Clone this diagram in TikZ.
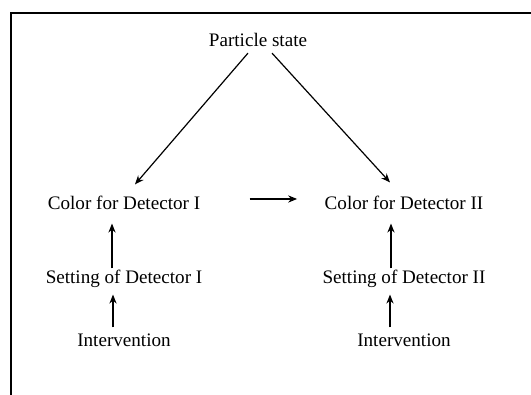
\documentclass[tikz,border=0pt]{standalone}
\usepackage{fontspec}
\setmainfont{Liberation Serif}
\usetikzlibrary{arrows.meta, positioning}

\begin{document}
\begin{tikzpicture}[
        lbl/.style={inner sep=0pt, text height=6.5pt, text depth=2pt, font=\fontsize{9.55pt}{11pt}\selectfont},
        every path/.style={line width=0.6pt},
        >={Stealth[length=4.5pt, width=3.6pt]},
        on grid
    ]
        \useasboundingbox (0,0) rectangle (265.5pt,-197.5pt);
        % Frame
        \draw[line width=0.8pt] (265.5pt,-6.5pt) -- (5.5pt,-6.5pt) -- (5.5pt,-197.5pt);

        % Nodes
        \node[lbl] (state) at (129pt,-21pt) {Particle state};
        \node[lbl, below left=81.5pt and 67pt of state] (colorI) {Color for Detector I};
        \node[lbl, below right=81.5pt and 73pt of state] (colorII) {Color for Detector II};
        \node[lbl, below=37pt of colorI] (settingI) {Setting of Detector I};
        \node[lbl, below=37pt of colorII] (settingII) {Setting of Detector II};
        \node[lbl, below=31.5pt of settingI] (intervI) {Intervention};
        \node[lbl, below=31.5pt of settingII] (intervII) {Intervention};

        % Arrows
        \draw[->] ([xshift=-5pt, yshift=-1pt]state.south) -- ([xshift=5.5pt, yshift=5.75pt]colorI.north);
        \draw[->] ([xshift=7pt, yshift=-1pt]state.south) -- ([xshift=-7pt, yshift=6.75pt]colorII.north);
        \draw[->] ([xshift=24.5pt, yshift=3pt]colorI.east) -- ([xshift=-13.5pt, yshift=3pt]colorII.west);
        \draw[->] ([xshift=-6pt, yshift=0.75pt]settingI.north) -- ([xshift=-6pt, yshift=-4.75pt]colorI.south);
        \draw[->] ([xshift=-6.5pt, yshift=0.75pt]settingII.north) -- ([xshift=-6.5pt, yshift=-4.75pt]colorII.south);
        \draw[->] ([xshift=-5.5pt, yshift=2.75pt]intervI.north) -- ([xshift=-5.5pt, yshift=-3.25pt]settingI.south);
        \draw[->] ([xshift=-7pt, yshift=2.75pt]intervII.north) -- ([xshift=-7pt, yshift=-3.25pt]settingII.south);
    \end{tikzpicture}
\end{document}
